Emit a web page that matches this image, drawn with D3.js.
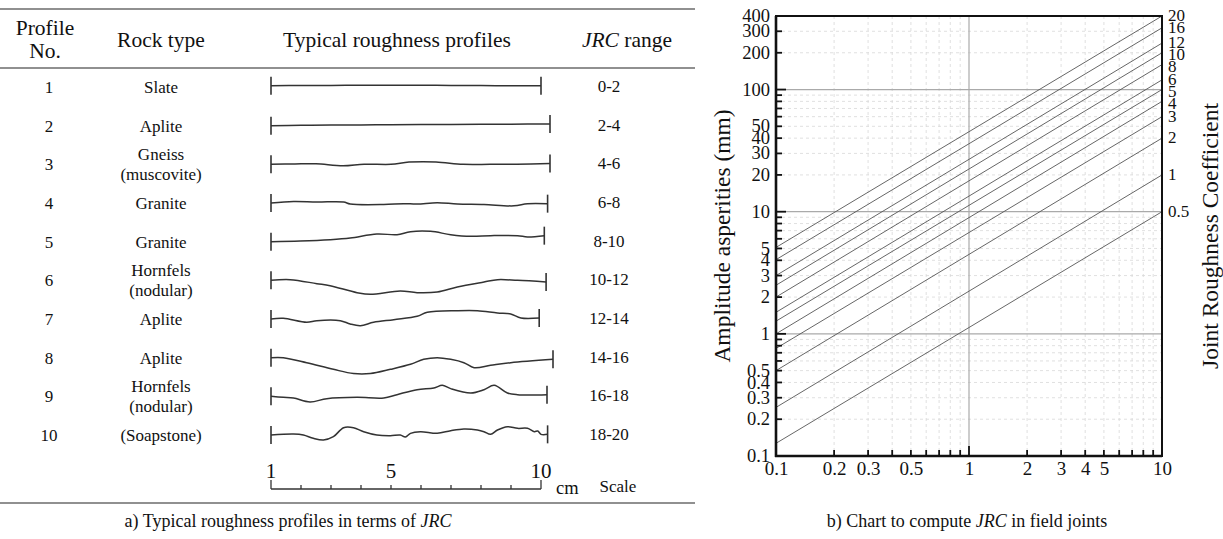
<!DOCTYPE html>
<html>
<head>
<meta charset="utf-8">
<script src="https://cdn.jsdelivr.net/npm/d3@7"></script>
<style>
  body { margin: 0; background: #fff; }
  svg text { font-family: "Liberation Serif", "Times New Roman", serif; fill: #111; }
</style>
</head>
<body>
<div id="fig"></div>
<script>
// ---- table a) data ----
const profileNo = [1, 2, 3, 4, 5, 6, 7, 8, 9, 10];
const rockType = [["Slate"], ["Aplite"], ["Gneiss", "(muscovite)"], ["Granite"], ["Granite"],
    ["Hornfels", "(nodular)"], ["Aplite"], ["Aplite"], ["Hornfels", "(nodular)"], ["(Soapstone)"]];
const jrcRange = ["0-2", "2-4", "4-6", "6-8", "8-10", "10-12", "12-14", "14-16", "16-18", "18-20"];

// profile heights: [position cm, height mm]
const profiles = [
    [[1, 0.4], [2, 0.5], [3, 0.5], [4, 0.6], [5, 0.6], [6, 0.6], [7, 0.5], [8, 0.5], [9, 0.4], [10, 0.4]],
    [[1, 0], [2, 0.1], [3, 0.2], [4, 0.25], [5, 0.3], [6, 0.35], [7, 0.4], [8, 0.45], [9, 0.5], [10.3, 0.55]],
    [[1, 0], [1.8, 0.15], [2.5, 0.2], [3.4, -0.5], [4.1, 0.05], [5, 0], [5.6, 0.75], [6.5, 0.8], [7.4, 0],
        [8.3, 0], [9.2, 0.05], [10.3, 0.3]],
    [[1, 0], [1.75, 0.5], [2.53, 0.33], [3.42, 0.33], [3.64, -0.33], [4.76, -0.5], [5.42, -0.22], [5.87, -0.33],
        [6.54, 0.1], [7.21, -0.33], [8.1, -0.5], [9.1, -0.95], [9.55, -0.22], [10.22, -0.22]],
    [[1, 0], [1.97, 0.22], [2.97, 0.67], [3.64, 1.22], [4.53, 2.56], [5.2, 2.33], [5.65, 3.33], [6.32, 3.44],
        [6.99, 2.33], [7.66, 1.78], [8.32, 2], [9.22, 2], [9.55, 1.56], [10.11, 2]],
    [[1, 0], [1.64, 0.22], [2.53, -1.11], [2.97, -1.78], [3.87, -4.11], [4.31, -4.67], [5.31, -3.56],
        [5.87, -4.11], [6.54, -3.89], [7.21, -2.22], [8.1, -0.56], [8.55, 0.22], [9.22, 0], [10.17, -0.56]],
    [[1, 0], [1.41, 0.22], [2.19, -1.11], [2.53, -0.56], [3.31, -0.56], [3.64, -1.67], [3.98, -2.22],
        [4.42, -1.11], [5.09, -0.22], [5.87, 0.89], [6.21, 2.22], [7.21, 2.78], [7.88, 2.78], [8.55, 2],
        [8.99, 1.67], [9.33, 0.33], [9.94, 0.33]],
    [[1, 0], [1.41, 0], [2.19, -1.67], [3.08, -3.89], [3.75, -5.3], [4.31, -5.3], [4.98, -3.89], [5.65, -2.22],
        [6.09, -0.56], [6.54, 0], [6.99, -0.56], [7.43, -1.67], [7.77, -3.33], [8.32, -2.56], [8.99, -1.67],
        [10.4, -0.56]],
    [[1, 0], [1.41, -0.33], [1.75, -0.56], [2.3, -1.89], [2.86, -0.78], [3.87, -0.33], [4.76, -0.56],
        [5.2, 0.56], [5.87, 2.22], [6.43, 2.78], [6.71, 3.67], [6.99, 2.56], [7.66, 1.11], [8.1, 2.22],
        [8.44, 3.67], [8.88, 1.11], [9.22, 0.56], [10.2, 0.56]],
    [[1, 0], [1.75, 0.33], [2.08, 0], [2.41, -1.11], [2.75, -1.67], [3.08, -0.56], [3.42, 2.44], [3.75, 2.44],
        [4.09, 1.11], [4.53, 0], [4.98, -0.22], [5.31, 0], [5.48, -0.67], [5.65, 0.56], [5.98, 1.11],
        [6.54, 0.56], [6.99, 1.44], [7.43, 2], [7.88, 1.67], [8.1, 1.11], [8.32, 0.22], [8.55, 1.67],
        [8.88, 2.78], [9.22, 2.22], [9.55, 2.22], [9.78, 1.11], [9.89, 1.33], [10.0, 0.22], [10.22, 0.22]]
];
const scaleTicks = [1, 2, 3, 4, 5, 6, 7, 8, 9, 10];
const scaleLabels = [1, 5, 10];

// ---- chart b) data ----
const lengthTicks = [0.1, 0.2, 0.3, 0.5, 1, 2, 3, 4, 5, 10];
const amplitudeTicks = [0.1, 0.2, 0.3, 0.4, 0.5, 1, 2, 3, 4, 5, 10, 20, 30, 40, 50, 100, 200, 300, 400];
const jrcLabels = [20, 16, 12, 10, 8, 6, 5, 4, 3, 2, 1, 0.5];
const ampAtShort = [5.1, 4.05, 3.0, 2.5, 2.0, 1.5, 1.27, 1.0, 0.76, 0.5, 0.25, 0.127];   // at L = 0.1
const ampAtLong = [400, 320, 240, 200, 160, 120, 100, 80, 60, 40, 20, 10];              // at L = 10
const lengthDomain = [0.1, 10];
const amplitudeDomain = [0.1, 400];

const W = 1223, H = 539;
const svg = d3.select('#fig')
    .append('svg')
    .attr('width', W)
    .attr('height', H);

// ================= a) table =================
const tableLeft = 0, tableRight = 695;
[9, 68, 503].forEach(ry => {
    svg.append('line').attr('x1', tableLeft).attr('x2', tableRight).attr('y1', ry).attr('y2', ry)
        .attr('stroke', '#222').attr('stroke-width', 1.2);
});

const colNo = 45, colRock = 161, colProf = 397, colJrc = 609;

const header = svg.append('g').style('font-size', '21.5px').attr('text-anchor', 'middle');
header.append('text').attr('x', colNo).attr('y', 35).text('Profile');
header.append('text').attr('x', colNo).attr('y', 58).text('No.');
header.append('text').attr('x', colRock).attr('y', 47).text('Rock type');
header.append('text').attr('x', colProf).attr('y', 47).text('Typical roughness profiles');
const jh = header.append('text').attr('x', 627).attr('y', 47);
jh.append('tspan').style('font-style', 'italic').text('JRC');
jh.append('tspan').text(' range');

const rowY = d3.scalePoint().domain(profileNo).range([87, 435]);
const cmX = d3.scaleLinear().domain([1, 10]).range([271, 541]);

const rows = svg.append('g').style('font-size', '17px').attr('text-anchor', 'middle');
profileNo.forEach((n, i) => {
    const y = rowY(n);
    rows.append('text').attr('x', colNo + 4).attr('y', y + 6).text(n);
    const lines = rockType[i];
    lines.forEach((t, k) => {
        rows.append('text')
            .attr('x', colRock)
            .attr('y', y + 6 + (k - (lines.length - 1) / 2) * 20)
            .text(t);
    });
    rows.append('text').attr('x', colJrc).attr('y', y + 5).text(jrcRange[i]);

    const hY = d3.scaleLinear().domain([-1, 1]).range([y + 3, y - 3]);
    const line = d3.line().x(d => cmX(d[0])).y(d => hY(d[1])).curve(d3.curveCatmullRom.alpha(0.5));
    const pts = profiles[i];
    svg.append('path')
        .datum(pts)
        .attr('d', line)
        .attr('fill', 'none')
        .attr('stroke', '#333')
        .attr('stroke-width', 1.5);
    [pts[0], pts[pts.length - 1]].forEach(p => {
        svg.append('line')
            .attr('x1', cmX(p[0])).attr('x2', cmX(p[0]))
            .attr('y1', hY(p[1]) - 9).attr('y2', hY(p[1]) + 9)
            .attr('stroke', '#333').attr('stroke-width', 1.6);
    });
});

// scale bar
const barY = 489;
svg.append('line').attr('x1', cmX(1)).attr('x2', cmX(10)).attr('y1', barY).attr('y2', barY)
    .attr('stroke', '#333').attr('stroke-width', 1.3);
svg.selectAll('.sbtick')
    .data(scaleTicks)
    .join('line')
    .attr('class', 'sbtick')
    .attr('x1', d => cmX(d)).attr('x2', d => cmX(d))
    .attr('y1', barY).attr('y2', d => (d === 1 || d === 10) ? barY - 9 : barY - 4)
    .attr('stroke', '#333').attr('stroke-width', 1.3);
svg.selectAll('.sblab')
    .data(scaleLabels)
    .join('text')
    .attr('class', 'sblab')
    .attr('x', d => cmX(d))
    .attr('y', 478)
    .attr('text-anchor', 'middle')
    .style('font-size', '21px')
    .text(d => d);
svg.append('text').attr('x', 556).attr('y', 494).style('font-size', '18.5px').text('cm');
svg.append('text').attr('x', 618).attr('y', 492).attr('text-anchor', 'middle').style('font-size', '17px').text('Scale');

const capA = svg.append('text').attr('x', 288).attr('y', 527).attr('text-anchor', 'middle').style('font-size', '18px');
capA.append('tspan').text('a) Typical roughness profiles in terms of ');
capA.append('tspan').style('font-style', 'italic').text('JRC');

// ================= b) chart =================
const pl = 776, pr = 1162, pt = 16, pb = 456;
const x = d3.scaleLog().domain(lengthDomain).range([pl, pr]);
const y = d3.scaleLog().domain(amplitudeDomain).range([pb, pt]);

const grid = svg.append('g');
const minorX = [], minorY = [];
[0.1, 1].forEach(dec => d3.range(2, 10).forEach(k => minorX.push(dec * k)));
[0.1, 1, 10, 100].forEach(dec => d3.range(2, 10).forEach(k => { if (dec * k < 400) minorY.push(dec * k); }));

grid.selectAll('.gx').data(minorX).join('line')
    .attr('x1', d => x(d)).attr('x2', d => x(d)).attr('y1', pt).attr('y2', pb)
    .attr('stroke', '#d8d8d8').attr('stroke-width', 0.8).attr('stroke-dasharray', '3,3');
grid.selectAll('.gy').data(minorY).join('line')
    .attr('x1', pl).attr('x2', pr).attr('y1', d => y(d)).attr('y2', d => y(d))
    .attr('stroke', '#d8d8d8').attr('stroke-width', 0.8).attr('stroke-dasharray', '3,3');
grid.selectAll('.mx').data([1]).join('line')
    .attr('x1', d => x(d)).attr('x2', d => x(d)).attr('y1', pt).attr('y2', pb)
    .attr('stroke', '#aaa').attr('stroke-width', 1.2);
grid.selectAll('.my').data([1, 10, 100]).join('line')
    .attr('x1', pl).attr('x2', pr).attr('y1', d => y(d)).attr('y2', d => y(d))
    .attr('stroke', '#aaa').attr('stroke-width', 1.2);

// JRC lines
svg.append('g').selectAll('line')
    .data(jrcLabels)
    .join('line')
    .attr('x1', x(lengthDomain[0])).attr('y1', (d, i) => y(ampAtShort[i]))
    .attr('x2', x(lengthDomain[1])).attr('y2', (d, i) => y(ampAtLong[i]))
    .attr('stroke', '#555').attr('stroke-width', 0.9);

// frame
svg.append('rect').attr('x', pl).attr('y', pt).attr('width', pr - pl).attr('height', pb - pt)
    .attr('fill', 'none').attr('stroke', '#111').attr('stroke-width', 2);
svg.append('line').attr('x1', pl).attr('x2', pl).attr('y1', pt).attr('y2', pb + 1)
    .attr('stroke', '#111').attr('stroke-width', 2.6);
svg.append('line').attr('x1', pl - 1).attr('x2', pr).attr('y1', pb).attr('y2', pb)
    .attr('stroke', '#111').attr('stroke-width', 2.6);

// ticks (inside)
const isDecade = v => Math.abs(Math.log10(v) - Math.round(Math.log10(v))) < 1e-6;
svg.append('g').selectAll('line').data(minorY.concat([1, 10, 100])).join('line')
    .attr('x1', pl).attr('x2', d => pl + (isDecade(d) ? 10 : 6))
    .attr('y1', d => y(d)).attr('y2', d => y(d))
    .attr('stroke', '#111').attr('stroke-width', 1.8);
svg.append('g').selectAll('line').data(minorX.concat([1])).join('line')
    .attr('x1', d => x(d)).attr('x2', d => x(d))
    .attr('y1', pb).attr('y2', d => pb - (isDecade(d) ? 10 : 6))
    .attr('stroke', '#111').attr('stroke-width', 1.8);

// axis labels via d3 axes, lines hidden
const fmt = d => String(d);
const yAxis = svg.append('g').attr('transform', `translate(${pl},0)`)
    .call(d3.axisLeft(y).tickValues(amplitudeTicks).tickFormat(fmt).tickSize(0).tickPadding(6));
yAxis.select('.domain').remove();
yAxis.selectAll('text').style('font-family', '"Liberation Serif", serif').style('font-size', '18.5px')
    .attr('dy', '0.3em').attr('fill', '#111');

const xAxis = svg.append('g').attr('transform', `translate(0,${pb})`)
    .call(d3.axisBottom(x).tickValues(lengthTicks).tickFormat(fmt).tickSize(0).tickPadding(6));
xAxis.select('.domain').remove();
xAxis.selectAll('text').style('font-family', '"Liberation Serif", serif').style('font-size', '19px').attr('fill', '#111');

// right JRC labels, nudged apart where crowded
const labY = ampAtLong.map(v => y(v));
for (let i = 1; i < labY.length; i++) {
    if (labY[i] - labY[i - 1] < 12) labY[i] = labY[i - 1] + 12;
}
svg.append('g').selectAll('text')
    .data(jrcLabels)
    .join('text')
    .attr('x', pr + 6)
    .attr('y', (d, i) => labY[i] + 5)
    .style('font-size', '17px')
    .text(d => d);

svg.append('text')
    .attr('transform', `translate(730,${(pt + pb) / 2}) rotate(-90)`)
    .attr('text-anchor', 'middle')
    .style('font-size', '23.5px')
    .text('Amplitude asperities (mm)');
svg.append('text')
    .attr('transform', `translate(1218,${(pt + pb) / 2}) rotate(-90)`)
    .attr('text-anchor', 'middle')
    .style('font-size', '23.5px')
    .text('Joint Roughness Coefficient');

const capB = svg.append('text').attr('x', 967).attr('y', 527).attr('text-anchor', 'middle').style('font-size', '18px');
capB.append('tspan').text('b) Chart to compute ');
capB.append('tspan').style('font-style', 'italic').text('JRC');
capB.append('tspan').text(' in field joints');
</script>
</body>
</html>
